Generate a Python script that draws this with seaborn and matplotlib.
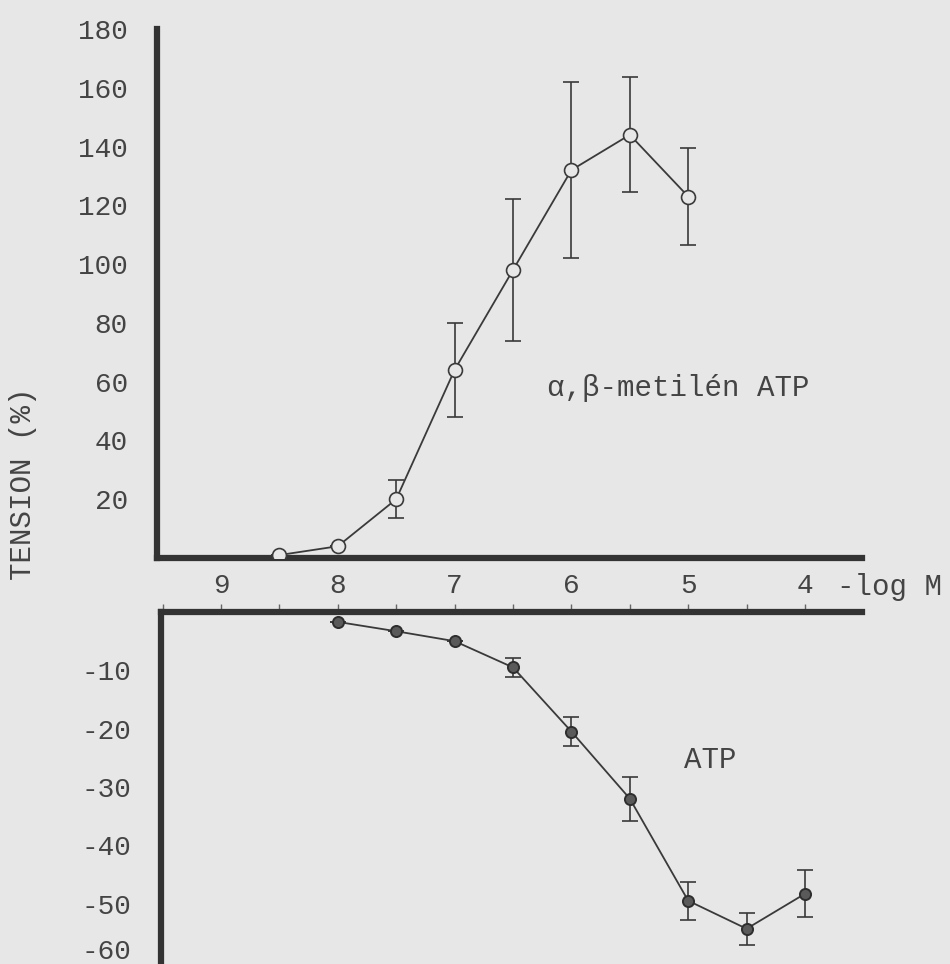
import matplotlib
matplotlib.use("Agg")
import matplotlib.pyplot as plt
import seaborn as sns
import pandas as pd
from matplotlib.ticker import MultipleLocator

# ---- data ----
conc_top = [8.5, 8.0, 7.5, 7.0, 6.5, 6.0, 5.5, 5.0]
tension_top = [1, 4, 20, 64, 98, 132, 144, 123]
err_top = [0, 0, 6.5, 16, 24, 30, 19.5, 16.5]

conc_bot = [8.0, 7.5, 7.0, 6.5, 6.0, 5.5, 5.0, 4.5, 4.0]
tension_bot = [-1.7, -3.3, -5.0, -9.5, -20.5, -32.0, -49.5, -54.3, -48.3]
err_bot = [0, 0, 0, 1.6, 2.5, 3.8, 3.3, 2.7, 4.0]

xticks = [9, 8, 7, 6, 5, 4]
yticks_top = [20, 40, 60, 80, 100, 120, 140, 160, 180]
yticks_bot = [-10, -20, -30, -40, -50, -60]

df_top = pd.DataFrame({"conc": conc_top, "tension": tension_top})
df_bot = pd.DataFrame({"conc": conc_bot, "tension": tension_bot})

sns.set_style("white")
plt.rcParams["font.family"] = ["Liberation Mono", "DejaVu Sans Mono"]

BG = "#e7e7e7"
INK = "#3a3a3a"
TXT = "#444444"
TICKFS = 20
TEXTFS = 21

fig = plt.figure(figsize=(9.5, 9.64), dpi=100, facecolor=BG)

W, H = 950, 964
def axrect(l, r, t, b):
    return [l / W, 1 - b / H, (r - l) / W, (b - t) / H]

ax1 = fig.add_axes(axrect(157, 862, 29, 558))
ax2 = fig.add_axes(axrect(161, 862, 612, 962))

for ax in (ax1, ax2):
    ax.set_facecolor(BG)

# ---- top panel ----
ax1.errorbar(conc_top, tension_top, yerr=err_top, fmt="none", ecolor=INK,
             elinewidth=1.2, capsize=6, capthick=1.2, zorder=2)
sns.lineplot(data=df_top, x="conc", y="tension", ax=ax1, color=INK, lw=1.3,
             marker="o", markersize=10, markerfacecolor=BG, markeredgecolor=INK,
             markeredgewidth=1.2, zorder=3)
ax1.set_xlim(9.548, 3.512)
ax1.set_ylim(0, 180)
ax1.xaxis.set_major_locator(MultipleLocator(1))
ax1.xaxis.set_minor_locator(MultipleLocator(0.5))
ax1.set_xticks(xticks)
ax1.set_xticklabels([str(v) for v in xticks])
ax1.set_yticks(yticks_top)
ax1.set_yticklabels([str(v) for v in yticks_top])
for s in ("top", "right"):
    ax1.spines[s].set_visible(False)
for s in ("left", "bottom"):
    ax1.spines[s].set_linewidth(4.5)
    ax1.spines[s].set_color("#333333")
ax1.tick_params(axis="y", direction="in", length=5, width=1, color=INK,
                pad=21, labelsize=TICKFS, labelcolor=TXT)
ax1.tick_params(axis="x", which="both", direction="out", length=6, width=1,
                color="#666666", pad=5, labelsize=TICKFS, labelcolor=TXT)
ax1.tick_params(axis="x", which="minor", labelbottom=False)
ax1.set_xlabel("")
ax1.set_ylabel("")
ax1.text(6.21, 58, "α,β-metilén ATP", fontsize=TEXTFS, color=TXT,
         va="center", ha="left")
ax1.text((837 - 157) / (862 - 157), -0.054, "-log M", transform=ax1.transAxes,
         fontsize=TEXTFS, color=TXT, ha="left", va="center", clip_on=False)

# ---- bottom panel ----
ax2.errorbar(conc_bot, tension_bot, yerr=err_bot, fmt="none", ecolor=INK,
             elinewidth=1.2, capsize=6, capthick=1.2, zorder=2)
sns.lineplot(data=df_bot, x="conc", y="tension", ax=ax2, color=INK, lw=1.3,
             marker="o", markersize=8, markerfacecolor="#5a5a5a",
             markeredgecolor="#2e2e2e", markeredgewidth=1.4, zorder=3)
ax2.set_xlim(9.514, 3.512)
ax2.set_ylim(-60, 0)
ax2.xaxis.set_major_locator(MultipleLocator(1))
ax2.xaxis.set_minor_locator(MultipleLocator(0.5))
ax2.set_yticks(yticks_bot)
# last label (-60) sits at the very bottom edge: draw it slightly raised
ax2.set_yticklabels([str(v) for v in yticks_bot[:-1]] + [""])
ax2.annotate(str(yticks_bot[-1]), xy=(0, yticks_bot[-1]),
             xycoords=ax2.get_yaxis_transform(), xytext=(-21, 7),
             textcoords="offset points", ha="right", va="center",
             fontsize=TICKFS, color=TXT, annotation_clip=False)
for s in ("bottom", "right"):
    ax2.spines[s].set_visible(False)
for s in ("left", "top"):
    ax2.spines[s].set_linewidth(4.5)
    ax2.spines[s].set_color("#333333")
ax2.xaxis.set_ticks_position("top")
ax2.tick_params(axis="x", which="both", direction="out", length=6, width=1,
                color="#666666", labeltop=False, labelbottom=False)
ax2.tick_params(axis="y", direction="in", length=5, width=1, color=INK,
                pad=21, labelsize=TICKFS, labelcolor=TXT)
ax2.set_xlabel("")
ax2.set_ylabel("")
ax2.text(5.04, -25.3, "ATP", fontsize=TEXTFS, color=TXT, va="center",
         ha="left")

fig.text(23 / W, 1 - 484 / H, "TENSION (%)", rotation=90, fontsize=TEXTFS,
         color=TXT, ha="center", va="center")

fig.savefig("out.png", dpi=100, facecolor=BG)
